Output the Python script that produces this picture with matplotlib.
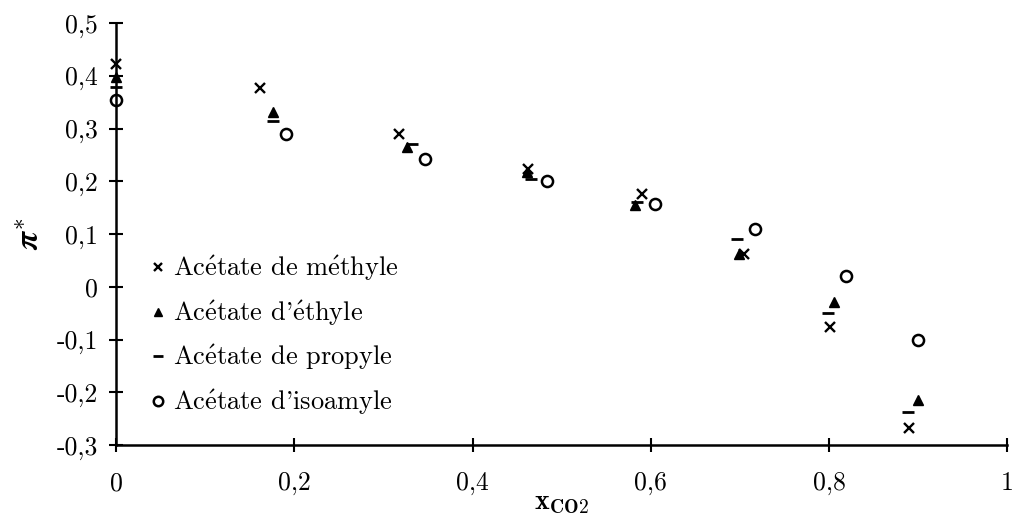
import matplotlib.pyplot as plt
import matplotlib.ticker as mticker

plt.rcParams['font.family'] = ['cmr10', 'DejaVu Serif']
plt.rcParams['mathtext.fontset'] = 'cm'
plt.rcParams['axes.unicode_minus'] = False

# x_CO2 / pi* for each solvent
x_methyle = [0.0, 0.162, 0.317, 0.462, 0.590, 0.704, 0.801, 0.890]
y_methyle = [0.423, 0.377, 0.290, 0.224, 0.177, 0.063, -0.077, -0.268]
x_ethyle = [0.0, 0.176, 0.326, 0.461, 0.582, 0.699, 0.806, 0.900]
y_ethyle = [0.397, 0.331, 0.266, 0.218, 0.155, 0.063, -0.028, -0.215]
x_propyle = [0.0, 0.176, 0.332, 0.465, 0.585, 0.697, 0.799, 0.889]
y_propyle = [0.379, 0.314, 0.271, 0.204, 0.160, 0.090, -0.050, -0.238]
x_isoamyle = [0.0, 0.191, 0.347, 0.483, 0.605, 0.717, 0.819, 0.900]
y_isoamyle = [0.355, 0.290, 0.243, 0.200, 0.157, 0.109, 0.020, -0.100]

# é drawn through mathtext so everything stays in Computer Modern
E = r'$\mathrm{\acute{e}}$'
labels = ["Ac" + E + "tate de m" + E + "thyle",
          "Ac" + E + "tate d'" + E + "thyle",
          "Ac" + E + "tate de propyle",
          "Ac" + E + "tate d'isoamyle"]

fig = plt.figure(figsize=(10.13, 5.14), dpi=100)
ax = fig.add_axes([0.1145, 0.134, 0.88, 0.821])

ax.plot(x_methyle, y_methyle, 'x', color='black', ms=7, mew=1.7, label=labels[0], clip_on=False)
ax.plot(x_ethyle, y_ethyle, '^', color='black', ms=7, label=labels[1], clip_on=False)
ax.plot(x_propyle, y_propyle, '_', color='black', ms=8, mew=2, label=labels[2], clip_on=False)
ax.plot(x_isoamyle, y_isoamyle, 'o', mfc='white', mec='black', ms=8, mew=1.8, label=labels[3], clip_on=False)

ax.set_xlim(0, 1)
ax.set_ylim(-0.3, 0.5)
ax.set_xticks([0, 0.2, 0.4, 0.6, 0.8, 1])
ax.set_yticks([-0.3, -0.2, -0.1, 0, 0.1, 0.2, 0.3, 0.4, 0.5])
fmt = mticker.FuncFormatter(lambda v, p: '{:g}'.format(round(v, 1)).replace('.', ','))
ax.xaxis.set_major_formatter(fmt)
ax.yaxis.set_major_formatter(fmt)
ax.tick_params(direction='inout', length=10, width=1.5, labelsize=18.5, pad=8)
ax.tick_params(axis='x', pad=14)

for s in ['top', 'right']:
    ax.spines[s].set_visible(False)
for s in ['left', 'bottom']:
    ax.spines[s].set_linewidth(1.8)

ax.set_xlabel(r'$\mathbf{x_{CO2}}$', fontsize=20, labelpad=-4)
ax.set_ylabel(r'$\boldsymbol{\pi}^{\mathbf{*}}$', fontsize=24, labelpad=8)

ax.legend(loc='center left', bbox_to_anchor=(0.026, 0.26), borderaxespad=0, frameon=False,
          fontsize=19, handlelength=0.6, handletextpad=0.3, labelspacing=0.58, markerscale=0.85)

fig.savefig('out.png', dpi=100)
